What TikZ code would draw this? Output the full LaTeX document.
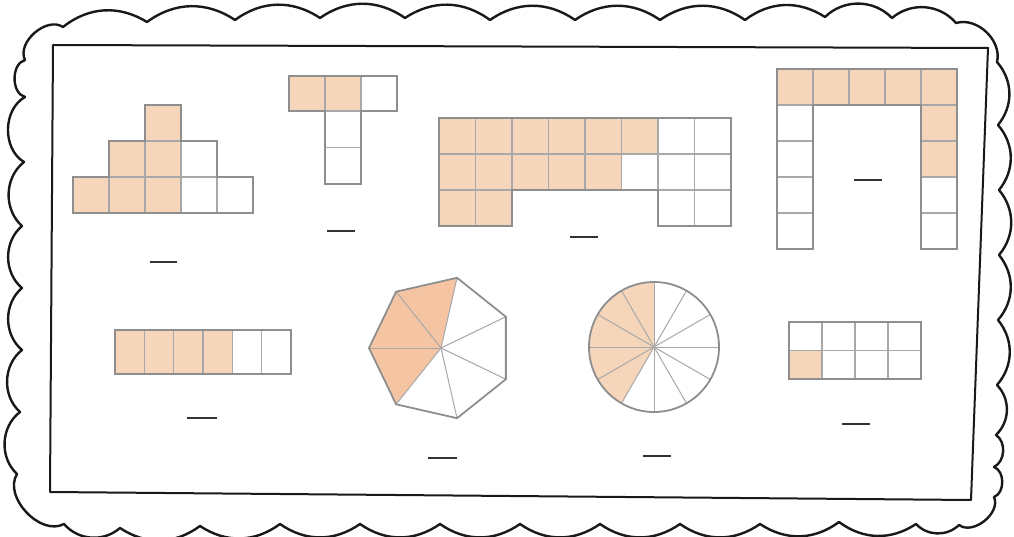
\documentclass[tikz,border=0pt]{standalone}
\usetikzlibrary{calc}
\definecolor{cellfill}{HTML}{F6D6BA}
\definecolor{heptfill}{HTML}{F5C5A3}
\definecolor{gridc}{HTML}{A8A8A8}
\definecolor{edgec}{HTML}{8E8E8E}
\tikzset{
  cellst/.style={draw=gridc, line width=1.1pt},
  fcell/.style={cellst, fill=cellfill},
  wcell/.style={cellst, fill=white},
  outl/.style={draw=edgec, line width=1.8pt, line join=miter},
  blankln/.style={draw=black!80, line width=1.6pt},
  frame/.style={draw=black!90, line width=2pt, line join=round},
  wave/.style={draw=black!90, line width=2.4pt, line join=round},
}
\newcommand\fc[4]{\path[fcell] (#1,#2) rectangle ++(#3,#4);}
\newcommand\wc[4]{\path[wcell] (#1,#2) rectangle ++(#3,#4);}
\begin{document}
\begin{tikzpicture}[x=1pt,y=-1pt]
\useasboundingbox (0,0) rectangle (1014,537);
\fill[white] (0,0) rectangle (1014,537);

% scalloped outer border
\draw[wave] (25,60) to[bend left=75] (63,27)
  to[bend left=35] (147,22) to[bend left=35] (235,20) to[bend left=35] (320,18)
  to[bend left=35] (405,18) to[bend left=35] (490,20) to[bend left=35] (575,20)
  to[bend left=35] (660,20) to[bend left=35] (745,20) to[bend left=35] (825,17)
  to[bend left=45] (892,18) to[bend left=45] (956,23) to[bend left=60] (997,62)
  to[bend left=40] (998,125) to[bend left=40] (999,190)
  to[bend left=40] (999,255) to[bend left=40] (998,320)
  to[bend left=40] (997,385) to[bend left=45] (996,435) to[bend left=60] (994,467)
  to[bend left=70] (994,497) to[bend left=75] (959,525)
  to[bend left=45] (916,524) to[bend left=35] (839,522) to[bend left=35] (760,524)
  to[bend left=35] (680,524) to[bend left=35] (600,524) to[bend left=35] (520,524)
  to[bend left=35] (440,524) to[bend left=35] (360,524) to[bend left=35] (280,524)
  to[bend left=35] (200,526) to[bend left=35] (120,528) to[bend left=45] (64,524)
  to[bend left=75] (17,474) to[bend left=50] (20,412) to[bend left=50] (22,350)
  to[bend left=50] (22,288) to[bend left=50] (22,226) to[bend left=50] (24,162)
  to[bend left=60] (25,97)
  to[bend left=75] cycle;

% inner frame
\draw[frame] (53,45) -- (988,48) -- (971,500) -- (50,492) -- cycle;

% shape 1: staircase
\fc{145}{105}{36}{36}
\fc{109}{141}{36}{36} \fc{145}{141}{36}{36} \wc{181}{141}{36}{36}
\fc{73}{177}{36}{36} \fc{109}{177}{36}{36} \fc{145}{177}{36}{36}
\wc{181}{177}{36}{36} \wc{217}{177}{36}{36}
\draw[outl] (145,105) -- (181,105) -- (181,141) -- (217,141) -- (217,177) -- (253,177)
  -- (253,213) -- (73,213) -- (73,177) -- (109,177) -- (109,141) -- (145,141) -- cycle;
\draw[blankln] (150,262) -- (177,262);

% shape 2: T
\fc{289}{76}{36}{35} \fc{325}{76}{36}{35} \wc{361}{76}{36}{35}
\wc{325}{111}{36}{36.5} \wc{325}{147.5}{36}{36.5}
\draw[outl] (289,76) -- (397,76) -- (397,111) -- (361,111) -- (361,184) -- (325,184)
  -- (325,111) -- (289,111) -- cycle;
\draw[blankln] (327,231) -- (355,231);

% shape 3
\foreach \i in {0,...,5} {\fc{439+36.5*\i}{118}{36.5}{36}}
\foreach \i in {6,7} {\wc{439+36.5*\i}{118}{36.5}{36}}
\foreach \i in {0,...,4} {\fc{439+36.5*\i}{154}{36.5}{36}}
\foreach \i in {5,6,7} {\wc{439+36.5*\i}{154}{36.5}{36}}
\foreach \i in {0,1} {\fc{439+36.5*\i}{190}{36.5}{36}}
\foreach \i in {6,7} {\wc{439+36.5*\i}{190}{36.5}{36}}
\draw[outl] (439,118) -- (731,118) -- (731,226) -- (658,226) -- (658,190) -- (512,190)
  -- (512,226) -- (439,226) -- cycle;
\draw[blankln] (570,237) -- (598,237);

% shape 4: arch
\foreach \i in {0,...,4} {\fc{777+36*\i}{69}{36}{36}}
\fc{921}{105}{36}{36} \fc{921}{141}{36}{36}
\wc{921}{177}{36}{36} \wc{921}{213}{36}{36}
\foreach \j in {1,...,4} {\wc{777}{69+36*\j}{36}{36}}
\draw[outl] (777,69) -- (957,69) -- (957,249) -- (921,249) -- (921,105) -- (813,105)
  -- (813,249) -- (777,249) -- cycle;
\draw[blankln] (854,180) -- (882,180);

% shape 5: strip of six
\foreach \i in {0,...,3} {\fc{115+29.33*\i}{330}{29.33}{44}}
\foreach \i in {4,5} {\wc{115+29.33*\i}{330}{29.33}{44}}
\draw[outl] (115,330) rectangle (291,374);
\draw[blankln] (187,418) -- (217,418);

% shape 6: heptagon
\coordinate (hc) at (441,348);
\fill[heptfill] (hc)
  \foreach \k in {1,2,3,4} {-- ({441+72*cos(180-(\k-2)*360/7)},{348-72*sin(180-(\k-2)*360/7)})} -- cycle;
\foreach \k in {0,...,6} {
  \draw[draw=gridc, line width=1pt] (hc) -- ({441+72*cos(180-\k*360/7)},{348-72*sin(180-\k*360/7)});
}
\draw[outl] ({441+72*cos(180)},{348-72*sin(180)})
  \foreach \k in {1,...,6} {-- ({441+72*cos(180-\k*360/7)},{348-72*sin(180-\k*360/7)})} -- cycle;
\draw[blankln] (428,458) -- (457,458);

% shape 7: circle in twelve
\coordinate (cc) at (654,347);
\fill[cellfill] (cc) -- plot[domain=90:240, samples=50] ({654+65*cos(\x)},{347-65*sin(\x)}) -- cycle;
\foreach \k in {0,...,11} {
  \draw[draw=gridc, line width=1pt] (cc) -- ({654+65*cos(30*\k)},{347-65*sin(30*\k)});
}
\draw[outl] (cc) circle[radius=65];
\draw[blankln] (643,456) -- (671,456);

% shape 8: 4x2 grid
\foreach \i in {0,...,3} {\wc{789+33*\i}{322}{33}{28.5}}
\fc{789}{350.5}{33}{28.5}
\foreach \i in {1,2,3} {\wc{789+33*\i}{350.5}{33}{28.5}}
\draw[outl] (789,322) rectangle (921,379);
\draw[blankln] (842,424) -- (870,424);
\end{tikzpicture}
\end{document}
